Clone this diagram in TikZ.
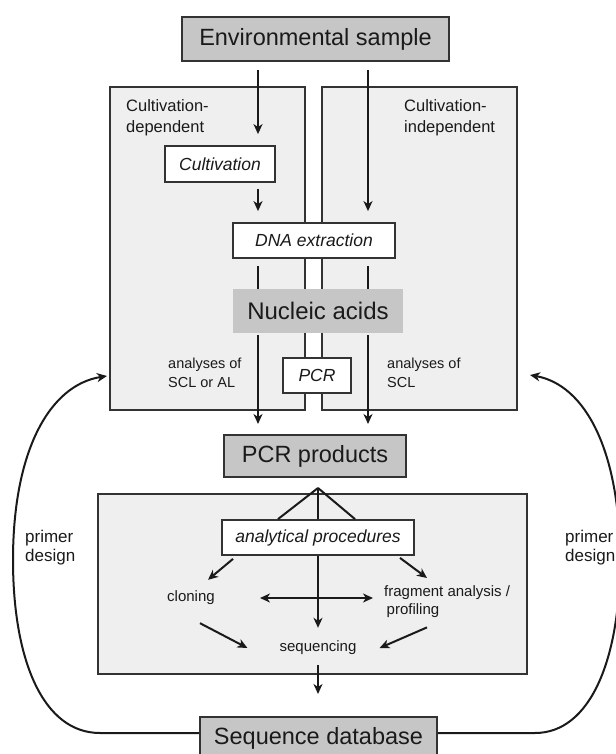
\documentclass[tikz,border=0pt]{standalone}
\usepackage{fontspec}
\setmainfont{Liberation Sans}
\usetikzlibrary{arrows.meta,calc}
\definecolor{boxgray}{HTML}{C6C6C6}
\definecolor{panelgray}{HTML}{EFEFEF}
\definecolor{edge}{HTML}{333333}
\definecolor{ink}{HTML}{1A1A1A}
\begin{document}
\begin{tikzpicture}[x=1pt,y=-1pt,
  bigbox/.style={draw=edge, line width=2pt, fill=boxgray, font=\fontsize{23.5}{26}\selectfont, text=ink, inner sep=0pt},
  nucbox/.style={fill=boxgray, font=\fontsize{24}{26}\selectfont, text=ink, inner sep=0pt},
  whitebox/.style={draw=edge, line width=1.8pt, fill=white, font=\fontsize{17.5}{20}\selectfont\itshape, text=ink, inner sep=0pt},
  panel/.style={draw=edge, line width=1.6pt, fill=panelgray, inner sep=0pt},
  lbl/.style={font=\fontsize{15}{18}\selectfont, text=ink, inner sep=0pt, align=left},
  conn/.style={line width=2pt, draw=ink},
  arr/.style={conn, -{Stealth[length=10pt,width=9pt,inset=3pt]}},
  dblarr/.style={conn, {Stealth[length=10pt,width=9pt,inset=3pt]}-{Stealth[length=10pt,width=9pt,inset=3pt]}},
]
\useasboundingbox (0,0) rectangle (615,754);

% panels
\node[panel, minimum width=195pt, minimum height=323pt] (lp) at (207.5,248.5) {};
\node[panel, minimum width=195pt, minimum height=323pt] (rp) at (419.5,248.5) {};
\node[panel, minimum width=429pt, minimum height=180pt] (bp) at (312.5,584) {};

% reference columns
\coordinate (xl) at (258,0);
\coordinate (xr) at (368,0);

% text labels
\node[lbl, font=\fontsize{16.5}{21}\selectfont, anchor=north west] (cdep) at (126,99) {Cultivation-\\dependent};
\node[lbl, font=\fontsize{16.5}{21}\selectfont, anchor=north west] (cindep) at (404,99) {Cultivation-\\independent};
\node[lbl, font=\fontsize{14.5}{19}\selectfont, anchor=north west] (anl) at (168,358) {analyses of\\SCL or AL};
\node[lbl, font=\fontsize{14.5}{19}\selectfont, anchor=north west] (anr) at (387,358) {analyses of\\SCL};
\node[lbl] (clon) at (191,598) {cloning};
\node[lbl, anchor=north west] (frag) at (384,585) {fragment analysis /\\\,profiling};
\node[lbl] (seq) at (318,648) {sequencing};
\node[lbl, font=\fontsize{17}{18.5}\selectfont, anchor=north west] (prl) at (25,530) {primer\\design};
\node[lbl, font=\fontsize{17}{18.5}\selectfont, anchor=north west] (prr) at (565,530) {primer\\design};

% main boxes
\node[bigbox, minimum width=267pt, minimum height=44pt] (env) at (315.5,39) {Environmental sample};
\node[whitebox, minimum width=110pt, minimum height=36pt] (cult) at (220,164) {Cultivation};
\node[whitebox, minimum width=162pt, minimum height=35pt] (dna) at (314,240.5) {DNA extraction};
\node[nucbox, minimum width=170pt, minimum height=44pt] (nuc) at (318,311) {Nucleic acids};
\node[bigbox, minimum width=182pt, minimum height=42pt] (pcrp) at (315,456) {PCR products};
\node[bigbox, minimum width=237pt, minimum height=42pt] (sdb) at (318.5,738) {Sequence database};

% connectors upper part
\draw[arr, shorten <=8pt, shorten >=11pt] (env.south -| xl) -- (cult.north -| xl);
\draw[arr, shorten <=6pt, shorten >=11pt] (cult.south -| xl) -- (dna.north -| xl);
\draw[arr, shorten <=8pt, shorten >=11pt] (env.south -| xr) -- (dna.north -| xr);
\draw[conn, shorten <=7pt] (dna.south -| xl) -- (nuc.north -| xl);
\draw[conn, shorten <=7pt] (dna.south -| xr) -- (nuc.north -| xr);
\draw[arr, shorten <=2pt, shorten >=10pt] (nuc.south -| xl) -- (pcrp.north -| xl);
\draw[arr, shorten <=2pt, shorten >=10pt] (nuc.south -| xr) -- (pcrp.north -| xr);

% PCR small box on top of the panel gap
\node[whitebox, minimum width=68pt, minimum height=35pt] (pcr) at (317,375.5) {PCR};

% lower part
\coordinate (apex) at ($(pcrp.south)+(3,10)$);
\draw[arr, shorten >=13pt] (apex) -- (apex |- seq.north);
\node[whitebox, minimum width=192pt, minimum height=35pt] (anal) at (318,537.5) {analytical procedures};
\draw[conn] (apex) -- ($(anal.north)+(-40,0)$);
\draw[conn] (apex) -- ($(anal.north)+(37,0)$);
\draw[arr] ($(anal.south)+(-85,3)$) -- ($(clon.north)+(17,-11)$);
\draw[arr] ($(anal.south)+(82,2)$) -- ($(frag.north west)+(43,-7)$);
\draw[dblarr] ($(clon.east)+(45,0)$) -- ($(seq.center |- clon.east)+(55,0)$);
\draw[arr] ($(clon.south)+(9,18)$) -- ($(seq.west)+(-32,0)$);
\draw[arr] ($(frag.south west)+(43,10)$) -- ($(seq.east)+(23,0)$);
\draw[arr, shorten <=10pt, shorten >=22pt] (seq.south) -- (seq.south |- sdb.north);

% primer design feedback curves
\coordinate (tipl) at (107,376);
\coordinate (tipr) at (530,375);
\draw[arr] ($(sdb.west)+(0,-5)$) -- (100,733) .. controls (43,733) and (13,660) .. (13,560)
   .. controls (13,450) and (50,385) .. (tipl);
\draw[arr] ($(sdb.east)+(0,-5)$) -- (535,733) .. controls (590,733) and (620,660) .. (620,560)
   .. controls (620,450) and (585,385) .. (tipr);
\end{tikzpicture}
\end{document}
